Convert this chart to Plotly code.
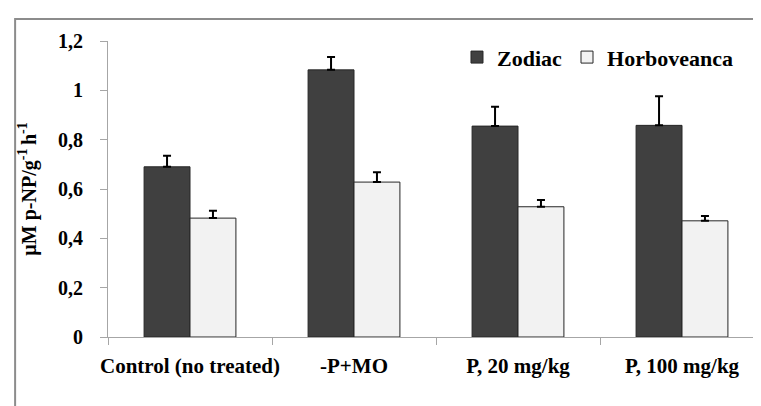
import plotly.graph_objects as go

categories = ["Control (no treated)", "-P+MO", "P, 20 mg/kg", "P, 100 mg/kg"]
zodiac = [0.69, 1.083, 0.855, 0.858]
zodiac_err = [0.045, 0.052, 0.078, 0.118]
horbo = [0.482, 0.628, 0.528, 0.471]
horbo_err = [0.03, 0.04, 0.027, 0.02]

FONT = "Liberation Serif, Times New Roman, DejaVu Serif, serif"

def err(vals):
    return dict(type="data", symmetric=False, array=vals, arrayminus=[0] * len(vals),
                color="#000000", thickness=2, width=4)

fig = go.Figure()
fig.add_trace(go.Bar(name="Zodiac", x=categories, y=zodiac, error_y=err(zodiac_err),
                     marker=dict(color="#404040", line=dict(color="#262626", width=1))))
fig.add_trace(go.Bar(name="Horboveanca", x=categories, y=horbo, error_y=err(horbo_err),
                     marker=dict(color="#f2f2f2", line=dict(color="#262626", width=1))))

def f(size):
    return dict(family=FONT, size=size, color="#000000", weight="bold")

fig.update_layout(
    width=761, height=406,
    margin=dict(l=100, r=5, t=33, b=77),
    paper_bgcolor="white", plot_bgcolor="white",
    separators=", ",
    barmode="group", bargap=0.44, bargroupgap=0,
    font=f(20),
    showlegend=True,
    legend=dict(orientation="h", x=0.532, y=0.945, xanchor="left", yanchor="middle",
                font=f(22), bgcolor="rgba(0,0,0,0)", itemwidth=30, traceorder="normal"),
    xaxis=dict(showline=True, linecolor="#a6a6a6", linewidth=1, ticks="outside",
               ticklen=7, tickcolor="#a6a6a6", tickson="boundaries", tickangle=0,
               automargin=False,
               tickfont=f(21), ticklabelstandoff=10, showgrid=False),
    yaxis=dict(range=[0, 1.2], dtick=0.2, showline=True, linecolor="#a6a6a6", linewidth=1,
               ticks="outside", ticklen=7, tickcolor="#a6a6a6", showgrid=False,
               zeroline=False, tickfont=f(20), ticklabelstandoff=13, automargin=False,
               title=dict(text="µM p-NP/g<sup>-1 </sup>h<sup>-1</sup>",
                          font=f(20), standoff=16)),
)
# outer frame of the chart area
fig.add_shape(type="rect", xref="paper", yref="paper", x0=-0.1416, x1=1.05, y0=-0.35, y1=1.074,
              line=dict(color="#8c8c8c", width=2), fillcolor="rgba(0,0,0,0)", layer="below")
fig.write_html("out.html")
